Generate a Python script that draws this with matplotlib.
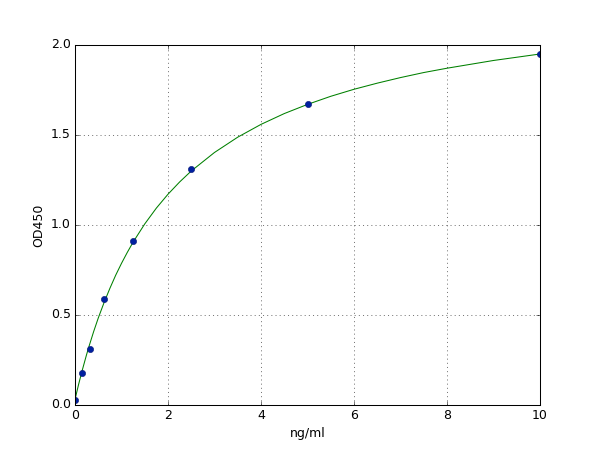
import matplotlib
matplotlib.use('Agg')
import matplotlib.pyplot as plt

# Standard points (concentration ng/ml, OD450)
conc = [0, 0.156, 0.3125, 0.625, 1.25, 2.5, 5, 10]
od = [0.03, 0.18, 0.31, 0.59, 0.91, 1.31, 1.67, 1.95]

# Fitted curve
curve_x = [0, 0.02, 0.04, 0.08, 0.156, 0.25, 0.3125, 0.4, 0.5, 0.625, 0.75, 0.875,
           1.0, 1.125, 1.25, 1.5, 1.75, 2.0, 2.25, 2.5, 3.0, 3.5, 4.0, 4.5,
           5.0, 5.5, 6.0, 6.5, 7.0, 7.5, 8.0, 9.0, 10.0]
curve_y = [0.03, 0.052, 0.074, 0.117, 0.193, 0.281, 0.335, 0.407, 0.483, 0.569, 0.648, 0.721,
           0.787, 0.848, 0.905, 1.006, 1.094, 1.171, 1.239, 1.300, 1.403, 1.488, 1.559, 1.619,
           1.670, 1.715, 1.754, 1.788, 1.819, 1.847, 1.871, 1.914, 1.950]

plt.style.use('classic')
fig = plt.figure(figsize=(8, 6), dpi=75, facecolor='white')
ax = fig.add_subplot(111)

ax.plot(curve_x, curve_y, color='g', linewidth=1)
ax.plot(conc, od, 'o', color='#0020a0', markeredgecolor='#001070', markersize=6)

ax.set_xlim(0, 10)
ax.set_ylim(0, 2.0)
ax.set_xticks([0, 2, 4, 6, 8, 10])
ax.set_yticks([0.0, 0.5, 1.0, 1.5, 2.0])
ax.set_yticklabels(['0.0', '0.5', '1.0', '1.5', '2.0'])
ax.grid(True, color='k', linestyle=':', linewidth=0.5)
ax.set_xlabel('ng/ml')
ax.set_ylabel('OD450')

fig.savefig('out.png', dpi=75, facecolor='white')
